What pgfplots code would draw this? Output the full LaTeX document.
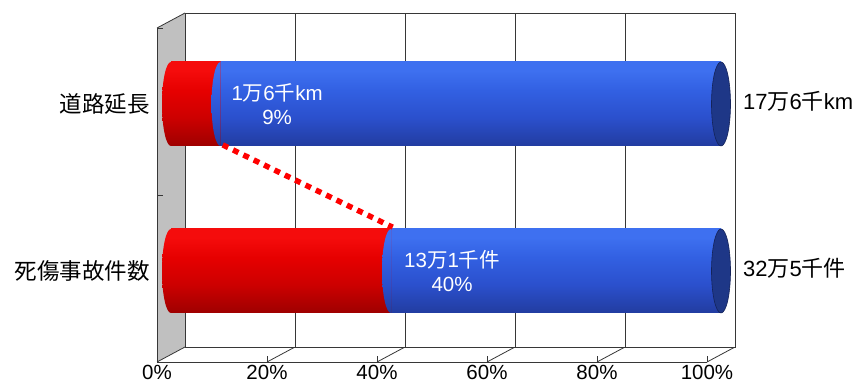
\documentclass[border=0pt]{standalone}
\usepackage{fontspec}
\setmainfont{Liberation Sans}
\newfontfamily\cjk{Noto Sans CJK JP}
\newcommand\J[1]{{\cjk #1}}
\usepackage{pgfplots}
\pgfplotsset{compat=1.18}

\definecolor{wallgray}{RGB}{192,192,192}
\definecolor{edge}{RGB}{55,55,55}
\definecolor{capblue}{RGB}{30,55,135}
\definecolor{capedge}{RGB}{20,35,90}
\definecolor{redA}{RGB}{158,0,0}
\definecolor{redB}{RGB}{205,0,0}
\definecolor{redC}{RGB}{230,0,0}
\definecolor{redD}{RGB}{245,12,12}
\definecolor{blueA}{RGB}{34,60,160}
\definecolor{blueB}{RGB}{43,80,205}
\definecolor{blueC}{RGB}{50,96,226}
\definecolor{blueD}{RGB}{62,112,240}

\pgfdeclareverticalshading{redcyl}{100bp}{color(0bp)=(redA); color(25bp)=(redA); color(42bp)=(redB); color(58bp)=(redC); color(70bp)=(redD); color(75bp)=(redD); color(100bp)=(redD)}
\pgfdeclareverticalshading{bluecyl}{100bp}{color(0bp)=(blueA); color(25bp)=(blueA); color(42bp)=(blueB); color(58bp)=(blueC); color(70bp)=(blueD); color(75bp)=(blueD); color(100bp)=(blueD)}

\pgfdeclareplotmark{redleft}{%
  \pgfpathmoveto{\pgfqpoint{0pt}{42pt}}%
  \pgfpatharc{90}{270}{9pt and 42pt}%
  \pgfpathclose
  \pgfshadepath{redcyl}{0}%
  \pgfusepath{}%
}
\pgfdeclareplotmark{blueleft}{%
  \pgfpathmoveto{\pgfqpoint{0pt}{42pt}}%
  \pgfpatharc{90}{270}{9pt and 42pt}%
  \pgfpathclose
  \pgfshadepath{bluecyl}{0}%
  \pgfusepath{}%
}
\pgfdeclareplotmark{bluecap}{%
  \pgfpathellipse{\pgfpointorigin}{\pgfqpoint{9.5pt}{0pt}}{\pgfqpoint{0pt}{42pt}}%
  \pgfusepath{fill,stroke}%
}

\begin{document}
\begin{tikzpicture}
\useasboundingbox (0,0) rectangle (864pt,385pt);
% left wall
\fill[wallgray] (157pt,23pt) -- (185pt,38pt) -- (185pt,372pt) -- (157pt,357pt) -- cycle;
\draw[edge, line width=0.8pt] (157pt,357pt) -- (185pt,372pt);
\draw[edge, line width=0.8pt] (707pt,23pt) -- (735pt,38pt);
\foreach \x in {157,267,377,487,597} \draw[edge, line width=0.8pt] (\x pt,23pt) -- ++(28pt,15pt);

% back wall
\begin{axis}[at={(185pt,38pt)}, anchor=south west, scale only axis,
  width=550pt, height=334pt, xmin=0, xmax=100, ymin=-0.5, ymax=1.5,
  xtick={0,20,...,100}, ytick=\empty, xticklabels={},
  xmajorgrids, grid style={edge, line width=0.8pt},
  axis line style={edge, line width=0.8pt}, major tick length=0pt,
  axis background/.style={fill=white}]
\addplot[draw=none] coordinates {(0,0)};
\end{axis}

% front axis
\begin{axis}[at={(157pt,23pt)}, anchor=south west, scale only axis,
  width=550pt, height=334pt, xmin=0, xmax=100, ymin=-0.5, ymax=1.5,
  axis x line=bottom, axis y line=left,
  axis line style={-, edge, line width=0.8pt},
  xtick={0,20,...,100}, xticklabels={0\%,20\%,40\%,60\%,80\%,100\%},
  ytick={-0.5,0.5,1.5}, yticklabels={},
  tick align=inside, major tick length=6pt,
  tick style={edge, line width=0.8pt},
  xticklabel style={font=\fontsize{20.5}{24}\selectfont, text=black}]
\addplot[draw=none] coordinates {(0,0)};
\end{axis}

% bars (mid depth)
\begin{axis}[at={(171pt,30.5pt)}, anchor=south west, scale only axis,
  width=550pt, height=334pt, xmin=0, xmax=100, ymin=-0.5, ymax=1.5,
  axis line style={draw=none}, tick style={draw=none}, major tick length=0pt,
  xtick=\empty, ytick={0,1},
  yticklabels={\J{死傷事故件数},\J{道路延長}},
  yticklabel style={font=\fontsize{22.5}{26}\selectfont, anchor=east, inner sep=0pt, xshift=-21pt},
  clip=false]
\addplot[xbar, bar width=84pt, bar shift=0pt, draw=none, shade, shading=bluecyl] coordinates {(100,1)};
\addplot[xbar, bar width=84pt, bar shift=0pt, draw=none, shade, shading=bluecyl] coordinates {(100,0)};
\addplot[xbar, bar width=84pt, bar shift=0pt, draw=none, shade, shading=redcyl] coordinates {(9,1)};
\addplot[xbar, bar width=84pt, bar shift=0pt, draw=none, shade, shading=redcyl] coordinates {(40,0)};
\addplot[only marks, mark=redleft] coordinates {(0,1) (0,0)};
\addplot[only marks, mark=blueleft] coordinates {(9,1) (40,0)};
\addplot[only marks, mark=bluecap, mark options={fill=capblue, draw=capedge, line width=0.6pt}] coordinates {(100,1) (100,0)};
\addplot[red, line width=5.5pt, dash pattern=on 6pt off 5.5pt] coordinates {(9.4,0.755) (40.3,0.262)};
\node[white, align=center, font=\fontsize{20.5}{24}\selectfont] at (axis cs:19.3,1) {1\J{万}6\J{千}km\\9\%};
\node[white, align=center, font=\fontsize{20.5}{24}\selectfont] at (axis cs:51.1,0) {13\J{万}1\J{千}\J{件}\\40\%};
\node[anchor=west, inner sep=0pt, font=\fontsize{22}{24}\selectfont] at (axis cs:100,1) [xshift=22pt, yshift=3pt] {17\J{万}6\J{千}km};
\node[anchor=west, inner sep=0pt, font=\fontsize{22}{24}\selectfont] at (axis cs:100,0) [xshift=22pt, yshift=3pt] {32\J{万}5\J{千}\J{件}};
\end{axis}
\end{tikzpicture}
\end{document}
